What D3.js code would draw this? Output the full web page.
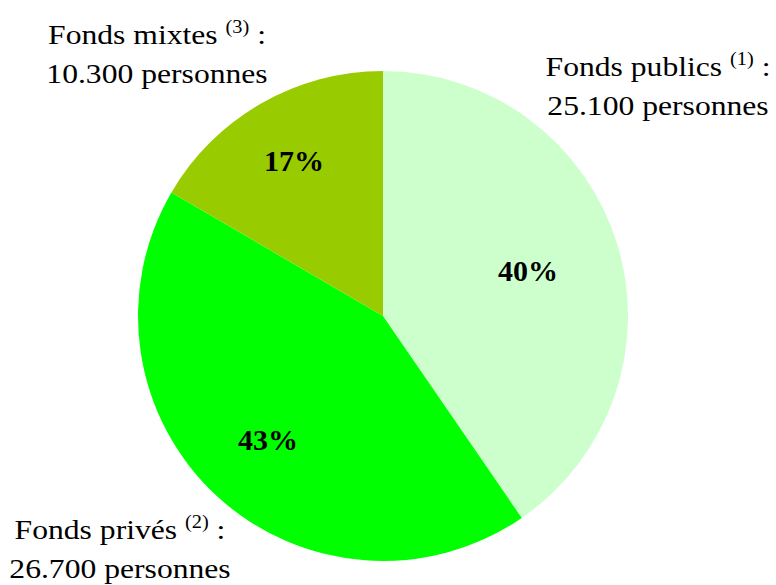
<!DOCTYPE html>
<html lang="fr">
<meta charset="UTF-8">
<script src="https://d3js.org/d3.v7.min.js"></script>
<style>
body { margin: 0; background: #fff; }
</style>
<body>
<div id="chart"></div>
<script>
// data
var categories = ["Fonds publics", "Fonds privés", "Fonds mixtes"];
var notes = ["(1)", "(2)", "(3)"];
var persons = [25100, 26700, 10300];
var personLabels = ["25.100 personnes", "26.700 personnes", "10.300 personnes"];
var percents = ["40%", "43%", "17%"];
var colors = ["#ccffcc", "#00ff00", "#99cc00"];

var width = 776, height = 585;
var cx = 383, cy = 316, radius = 245;
var serif = "'Liberation Serif', 'Times New Roman', Times, serif";

var svg = d3.select("#chart").append("svg")
  .attr("width", width)
  .attr("height", height)
  .attr("font-family", serif);

var g = svg.append("g").attr("transform", "translate(" + cx + "," + cy + ")");

var pie = d3.pie().sort(null).value(function(d) { return d; });
var arcs = pie(persons);
var arc = d3.arc().innerRadius(0).outerRadius(radius);

g.selectAll("path.slice")
  .data(arcs)
  .enter().append("path")
  .attr("class", "slice")
  .attr("d", arc)
  .attr("fill", function(d, i) { return colors[i]; });

// percent labels inside the slices, at a fraction of the radius
var labelRadius = [0.62, 0.69, 0.73];
g.selectAll("text.pct")
  .data(arcs)
  .enter().append("text")
  .attr("class", "pct")
  .attr("transform", function(d, i) {
    var r = radius * labelRadius[i];
    var c = d3.arc().innerRadius(r).outerRadius(r).centroid(d);
    return "translate(" + c + ")";
  })
  .attr("text-anchor", "middle")
  .attr("dy", "0.35em")
  .style("font-size", "30px")
  .style("font-weight", "bold")
  .text(function(d, i) { return percents[i]; });

// outside labels (center x, first baseline); text is a bit wide in the original
var labelPos = [[658, 76], [120, 539], [157, 44]];
categories.forEach(function(c, i) {
  var lab = svg.append("g")
    .attr("transform", "translate(" + labelPos[i][0] + "," + labelPos[i][1] + ") scale(1.13,1)")
    .style("font-size", "28px");
  var t = lab.append("text").attr("text-anchor", "middle");
  t.append("tspan").text(c + " ");
  t.append("tspan").attr("dy", -11).style("font-size", "18px").text(notes[i]);
  t.append("tspan").attr("dy", 11).text(" :");
  lab.append("text")
    .attr("y", 39)
    .attr("text-anchor", "middle")
    .text(personLabels[i]);
});
</script>
</body>
</html>
